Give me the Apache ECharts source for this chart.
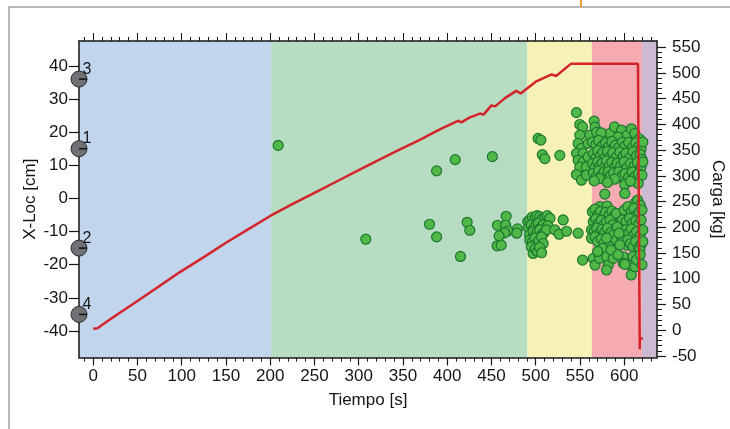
<!DOCTYPE html>
<html>
<head>
<meta charset="utf-8">
<script src="https://cdn.jsdelivr.net/npm/echarts@6/dist/echarts.min.js"></script>
<style>
  html, body { margin: 0; padding: 0; background: #fff; }
  #chart { width: 730px; height: 429px; }
</style>
</head>
<body>
<div id="chart"></div>
<script>
// Time axis ticks (s)
const timeTicks = [0, 50, 100, 150, 200, 250, 300, 350, 400, 450, 500, 550, 600];
const timeMinorTicks = [-10, 10, 20, 30, 40, 60, 70, 80, 90, 110, 120, 130, 140, 160, 170, 180, 190,
  210, 220, 230, 240, 260, 270, 280, 290, 310, 320, 330, 340, 360, 370, 380, 390,
  410, 420, 430, 440, 460, 470, 480, 490, 510, 520, 530, 540, 560, 570, 580, 590, 610, 620, 630];
// X-Loc axis ticks (cm)
const xLocTicks = [-40, -30, -20, -10, 0, 10, 20, 30, 40];
// Carga axis ticks (kg)
const cargaTicks = [-50, 0, 50, 100, 150, 200, 250, 300, 350, 400, 450, 500, 550];
const cargaMinorTicks = [-40, -30, -20, -10, 10, 20, 30, 40, 60, 70, 80, 90, 110, 120, 130, 140,
  160, 170, 180, 190, 210, 220, 230, 240, 260, 270, 280, 290, 310, 320, 330, 340,
  360, 370, 380, 390, 410, 420, 430, 440, 460, 470, 480, 490, 510, 520, 530, 540];

// Test phases: [start s, end s]
const phaseBounds = [[-16, 201], [201, 490.5], [490.5, 563.5], [563.5, 620], [620, 637]];
const phaseColors = ['#c1d6ec', '#b6dcc1', '#f6f1b6', '#f5abb1', '#cbbad1'];

// Sensor positions (cm) and their numbers
const sensorX = [36, 15, -15, -35];
const sensorNames = ['3', '1', '2', '4'];

// Load curve: time (s) and carga (kg)
const cargaTime = [0, 5, 10, 25, 45, 70, 98, 125, 150, 175, 200, 225, 250, 275, 300, 324, 345,
  369, 390, 412, 416, 425, 437, 441, 450, 454, 466, 478, 483, 500, 518, 523, 540, 615.5, 617.5, 617.6, 621];
const cargaKg = [3, 4, 10, 28, 51, 80, 113, 142, 170, 196, 222, 245, 267, 289, 311, 332, 350,
  370, 389, 407, 404, 413, 421, 419, 437, 435, 452, 465, 460, 483, 497, 494, 518, 518, -37, -16, -16];

// Events located by time (s) and X-Loc (cm)
const eventsEarly = [[209, 16], [308, -12.3], [380, -7.8], [388, -11.6], [388, 8.3], [409, 11.7],
  [415, -17.5], [422.5, -7.2], [425.5, -9.6], [451, 12.6], [456.8, -8.1], [466.6, -5.4], [466, -8.1],
  [468.8, -9.8], [465, -10.4], [458.6, -11.3], [456.4, -14.3], [461, -14.1], [479.4, -9.2], [478.6, -10.5]];

const eventsYellow = [[502.7, 18.1], [505.8, 17.6], [507.5, 13.2], [510.3, 12], [527.2, 13],
  [546, 25.9], [549.8, 22.3], [552.9, 21.6], [549.8, 19.1], [547.9, 16.6], [551.7, 15.1], [546, 13.6],
  [553.6, 13.6], [547.9, 11.5], [553.6, 11], [549.8, 9.5], [557.4, 9.5], [546, 7.2], [551.7, 5.5],
  [559.2, 16.6], [561, 19.1], [559.2, 12.5], [557.4, 7],
  [491, -7], [493.3, -6.5], [496, -5.6], [498.9, -6], [501.5, -5.2], [504.6, -5.5], [507, -6.2], [510.3, -6],
  [513, -5.2], [516, -6], [492, -9], [495, -8], [497.5, -9.3], [500, -8.2], [502.7, -7.5], [505, -9],
  [508.4, -8], [511, -9.4], [513.5, -8.2], [493, -11], [497, -10], [499, -11.5], [501.5, -10.2], [504.6, -9.5],
  [507, -11], [509.5, -10.3], [512.2, -9.5], [493.3, -12.6], [496, -13.2], [498.9, -12], [500.9, -13.6],
  [503.5, -12.8], [506.6, -11.6], [508.4, -13.6], [495, -14.6], [497, -16.6], [499.5, -15.2], [502, -16],
  [504.5, -14.8], [506.6, -16.4], [521.6, -9.5], [526.4, -10.8], [531, -6.5], [534.8, -9.9], [547.9, -10.5],
  [552.9, -18.6]];

const eventsRedUpper = [[566, 23.3], [567, 21.5], [569, 20], [578, 18.6], [584, 19.6], [589, 21.6], [597, 20.6],
  [603, 19], [608, 21], [612, 19.6], [617, 18], [574, 19.8], [593, 18.5],
  [564, 17], [568, 16.2], [571, 17.5], [575, 15.8], [579, 16.8], [582, 15.5], [586, 17.2], [590, 16], [594, 15.4],
  [598, 17], [601, 15.8], [605, 16.9], [609, 15.3], [613, 16.8], [616, 15.5], [619, 15], [621, 17],
  [565, 13.5], [568, 12.2], [570, 14.4], [573, 12.8], [576, 13.9], [578, 12.1], [581, 14.2], [584, 12.6],
  [587, 13.8], [591, 12.4], [595, 14], [599, 12.8], [602, 13.6], [606, 12.3], [610, 14.1], [614, 12.9],
  [618, 13.3], [620, 11.8],
  [564, 10.5], [567, 9.4], [570, 11], [572, 9.6], [575, 10.6], [577, 9.2], [580, 11.3], [583, 9.8], [586, 10.9],
  [589, 9.4], [592, 10.6], [596, 9.8], [600, 11], [603, 9.3], [607, 10.5], [611, 9.7], [615, 10.8], [619, 9.5],
  [621, 11],
  [565, 7.6], [568, 6.5], [571, 8.3], [574, 6.8], [577, 7.9], [579, 6.2], [582, 8.1], [585, 6.9], [588, 7.7],
  [591, 6.2], [594, 8], [598, 6.9], [601, 7.5], [605, 6.4], [609, 8], [612, 6.6], [616, 7.4], [620, 7],
  [572, 6], [589, 5.8], [600.6, 4.2], [615.7, 4.5], [581, 4.8], [607, 5.2], [566, 5.3]];

const eventsRedLower = [[578, 1.3], [600.6, 1.5], [572.4, -2.5], [580.7, -2.3], [612, -1.5], [615, -0.5], [618, -2],
  [564, -4], [567, -3.2], [570, -5], [573, -4], [576, -5.5], [579, -4.2], [583, -5], [586, -3.8], [589, -5.2],
  [565, -7], [568, -6.2], [571, -7.5], [574, -6.6], [577, -8], [580, -7], [584, -6.5], [587, -8], [591, -4.5],
  [563, -9.5], [566, -10], [569, -9], [572, -10.5], [575, -9.3], [578, -10.2], [581, -9], [585, -10.3], [588, -11],
  [563, -12], [567, -11.6], [570, -13], [574, -12.2], [577, -13.5], [584, -13.6], [580, -12], [591, -12.6],
  [576, -15.1], [565, -18.1], [567, -20.1], [572, -18.1], [580, -17.6], [582, -20.1], [580, -21.6], [587.5, -18.1],
  [570, -16], [585, -15.5],
  [597, -11.6], [599, -17.6], [599, -19.6], [606, -20.1], [608, -23.1], [612, -20.6], [603, -14.1], [600.7, -19.9],
  [600, -3.5], [604, -2.5], [608, -4], [611, -3], [614, -5], [617, -4], [620, -3.5],
  [598, -6.5], [602, -7], [606, -6], [609, -7.5], [613, -6.8], [616, -8], [619, -6.5],
  [601, -9.5], [605, -10.5], [608, -9.2], [611, -11], [614, -10], [618, -11.2], [621, -9.5],
  [604, -12.5], [607, -13.6], [610, -14.5], [613, -13], [616, -15], [619, -14], [617.6, -15.6], [621, -13],
  [610, -17.5], [614, -18.5], [618, -17], [620, -20],
  [592, -8.6], [594, -10.5], [595, -14], [593, -17]];

const FONT = 'Liberation Sans, Arial, sans-serif';
const INK = '#161616';

const chart = echarts.init(document.getElementById('chart'), null, { renderer: 'canvas' });

const X_MIN = -16, X_MAX = 637;
const FRAME = { show: true, onZero: false, lineStyle: { color: INK, width: 1.5 } };
const NO_LINE = { show: false, onZero: false };

function tickAxis(position, values, length, showLine) {
  return {
    type: 'value', position: position, min: X_MIN, max: X_MAX,
    axisLine: showLine ? FRAME : NO_LINE,
    axisTick: { show: true, customValues: values, length: length, inside: false,
      lineStyle: { color: INK, width: 1 } },
    axisLabel: { show: false },
    splitLine: { show: false }
  };
}

const option = {
  animation: false,
  backgroundColor: '#ffffff',
  grid: { left: 79, right: 73, top: 41, bottom: 71.5, containLabel: false, outerBoundsMode: 'none' },
  graphic: [
    { type: 'rect', silent: true, shape: { x: 9, y: 7, width: 740, height: 440 },
      style: { fill: null, stroke: '#a3a3a3', lineWidth: 1.5 } },
    { type: 'line', silent: true, shape: { x1: 581, y1: 0, x2: 581, y2: 7 },
      style: { stroke: '#f0a030', lineWidth: 2 } }
  ],
  xAxis: [
    {
      type: 'value', position: 'bottom', min: X_MIN, max: X_MAX,
      name: 'Tiempo [s]', nameLocation: 'middle', nameGap: 34, nameMoveOverlap: false,
      nameTextStyle: { fontFamily: FONT, fontSize: 17, color: INK },
      axisLine: FRAME,
      axisTick: { show: true, customValues: timeTicks, length: 8, lineStyle: { color: INK, width: 1.2 } },
      axisLabel: { customValues: timeTicks, fontFamily: FONT, fontSize: 17, color: INK, margin: 10 },
      splitLine: { show: false }
    },
    tickAxis('bottom', timeMinorTicks, 4, false),
    tickAxis('top', timeTicks, 8, true),
    tickAxis('top', timeMinorTicks, 4, false)
  ],
  yAxis: [
    {
      type: 'value', position: 'left', min: -48, max: 47.5,
      name: 'X-Loc [cm]', nameLocation: 'middle', nameGap: 40, nameMoveOverlap: false,
      nameTextStyle: { fontFamily: FONT, fontSize: 17, color: INK },
      axisLine: FRAME,
      axisTick: { show: true, customValues: xLocTicks, length: 10, lineStyle: { color: INK, width: 1.2 } },
      axisLabel: { customValues: xLocTicks, fontFamily: FONT, fontSize: 17, color: INK, margin: 11 },
      splitLine: { show: false }
    },
    {
      type: 'value', position: 'right', min: -53, max: 562,
      name: 'Carga [kg]', nameLocation: 'middle', nameGap: 52, nameRotate: -90, nameMoveOverlap: false,
      nameTextStyle: { fontFamily: FONT, fontSize: 17, color: INK },
      axisLine: FRAME,
      axisTick: { show: true, customValues: cargaTicks, length: 9, lineStyle: { color: INK, width: 1.2 } },
      axisLabel: { customValues: cargaTicks, fontFamily: FONT, fontSize: 17, color: INK, margin: 15 },
      splitLine: { show: false }
    },
    {
      type: 'value', position: 'right', min: -53, max: 562,
      axisLine: NO_LINE,
      axisTick: { show: true, customValues: cargaMinorTicks, length: 5, lineStyle: { color: INK, width: 1 } },
      axisLabel: { show: false },
      splitLine: { show: false }
    }
  ],
  series: [
    {
      // coloured phase bands
      type: 'custom', xAxisIndex: 0, yAxisIndex: 0, z: 0, silent: true,
      data: phaseBounds.map((b, i) => [b[0], b[1], i]),
      renderItem: function (params, api) {
        const x0 = api.coord([api.value(0), 0])[0];
        const x1 = api.coord([api.value(1), 0])[0];
        const cs = params.coordSys;
        return {
          type: 'rect',
          shape: { x: x0, y: cs.y, width: x1 - x0, height: cs.height },
          style: { fill: phaseColors[api.value(2)] }
        };
      }
    },
    {
      name: 'Eventos', type: 'scatter', xAxisIndex: 0, yAxisIndex: 0, z: 3,
      symbol: 'circle', symbolSize: 10,
      itemStyle: { color: '#4fb847', borderColor: '#1c7630', borderWidth: 1.2, opacity: 1 },
      data: eventsEarly.concat(eventsYellow, eventsRedUpper, eventsRedLower)
    },
    {
      name: 'Carga', type: 'line', xAxisIndex: 0, yAxisIndex: 1, z: 4,
      showSymbol: false, smooth: false,
      lineStyle: { color: '#d3242b', width: 2.5 },
      data: cargaTime.map((t, i) => [t, cargaKg[i]])
    },
    {
      // sensor positions along the left edge
      type: 'custom', xAxisIndex: 0, yAxisIndex: 0, z: 5, clip: false, silent: true,
      data: sensorX.map((v, i) => [X_MIN, v, i]),
      renderItem: function (params, api) {
        const p = api.coord([api.value(0), api.value(1)]);
        const r = 8;
        return {
          type: 'group',
          children: [
            { type: 'circle', shape: { cx: p[0], cy: p[1], r: r },
              style: { fill: '#6f7174', stroke: '#2a2a2a', lineWidth: 1 } },
            { type: 'line', shape: { x1: p[0], y1: p[1], x2: p[0] + r, y2: p[1] },
              style: { stroke: '#111', lineWidth: 1.5 } },
            { type: 'text', x: p[0] + 8, y: p[1] - 10,
              style: { text: sensorNames[api.value(2)], font: '16px ' + FONT, fill: INK,
                align: 'center', verticalAlign: 'middle' } }
          ]
        };
      }
    }
  ]
};

chart.setOption(option);
</script>
</body>
</html>
